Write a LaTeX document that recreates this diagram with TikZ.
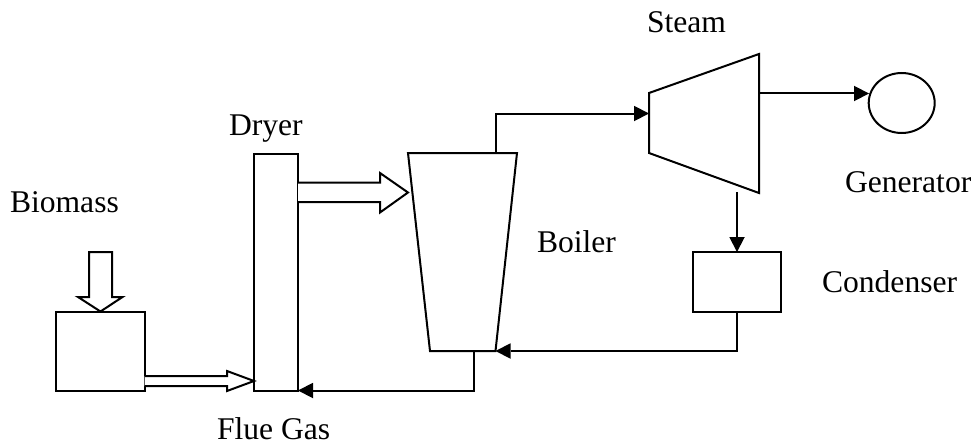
\documentclass[tikz,border=0pt]{standalone}
\usepackage{fontspec}
\setmainfont{Liberation Serif}
\usetikzlibrary{arrows.meta,shapes.geometric}
\tikzset{
  unitbox/.style={draw=black,line width=2pt,rectangle,inner sep=0pt,outer sep=0pt},
  label text/.style={anchor=base west,inner sep=0pt,outer sep=0pt,font=\fontsize{31.6pt}{36pt}\selectfont},
  outline/.style={draw=black,line width=2pt,line join=miter},
  flow/.style={draw=black,line width=2pt,-{Triangle[length=15pt,width=15.5pt,line width=0pt]},line join=miter},
  hollow/.style={draw=black,fill=white,line width=2pt,line join=miter}
}
\begin{document}
\begin{tikzpicture}[x=1pt,y=-1pt]
\useasboundingbox (0,0) rectangle (975,444);
% units
\node[unitbox,minimum width=88.5pt,minimum height=79pt] (biomassbox) at (100.25,351) {};
\node[unitbox,minimum width=44pt,minimum height=237pt] (dryer) at (276,272) {};
\node[unitbox,minimum width=88pt,minimum height=59.5pt] (condenser) at (737,281.75) {};
\node[draw=black,line width=2pt,ellipse,inner sep=0pt,outer sep=0pt,minimum width=66pt,minimum height=60pt] (generator) at (901.7,103) {};
% boiler and turbine outlines
\coordinate (btl) at (408,153);
\coordinate (btr) at (517,153);
\coordinate (bbr) at (495.5,351);
\coordinate (bbl) at (430,351);
\draw[outline] (btl) -- (btr) -- (bbr) -- (bbl) -- cycle;
\coordinate (ttl) at (649,93);
\coordinate (ttr) at (759,54);
\coordinate (tbr) at (759,193);
\coordinate (tbl) at (649,153);
\draw[outline] (ttl) -- (ttr) -- (tbr) -- (tbl) -- cycle;
% hollow arrows
\draw[hollow] (89,252) -- (112,252) -- (112,297) -- (122.5,297) -- (100.5,311.5) -- (78,297) -- (89,297) -- cycle;
\draw[hollow] (144.5,376) -- (227,376) -- (227,371) -- (254,381) -- (227,391) -- (227,386) -- (144.5,386);
\draw[hollow] (298,182.5) -- (380,182.5) -- (380,173) -- (408,192.5) -- (380,212.5) -- (380,202) -- (298,202);
% connectors
\coordinate (bout) at (495.5,153);
\coordinate (tin) at (649,113.5);
\draw[flow] (bout) |- (tin);
\coordinate (tout) at (759,93.5);
\coordinate (gin) at (869,93.5);
\draw[flow] (tout) -- (gin);
\coordinate (tdown) at (737,192);
\draw[flow] (tdown) -- (condenser.north);
\draw[flow] (condenser.south) |- (bbr);
\coordinate (bdown) at (474,351);
\draw[flow] (bdown) |- (dryer.south east);
% labels
\node[label text] (lbiomass) at (10,212) {Biomass};
\node[label text] (ldryer) at (229,135) {Dryer};
\node[label text] (lflue) at (217,439.5) {Flue Gas};
\node[label text] (lsteam) at (647,32.7) {Steam};
\node[label text] (lgen) at (845,192) {Generator};
\node[label text] (lboiler) at (537,252) {Boiler};
\node[label text] (lcond) at (822,292) {Condenser};
\end{tikzpicture}
\end{document}
